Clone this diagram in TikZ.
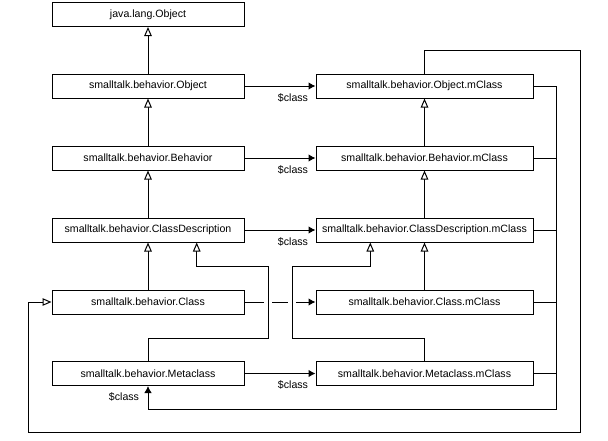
\documentclass[tikz,border=0pt]{standalone}
\usepackage{fontspec}
\setmainfont{Liberation Sans}
\usetikzlibrary{arrows.meta}
\tikzset{
  lbox/.style={draw, line width=1pt, rectangle, minimum width=192pt, minimum height=24pt, inner sep=0pt, font=\fontsize{10.6}{12}\selectfont},
  rbox/.style={lbox, minimum width=217pt},
  inh/.style={line width=1pt, -{Triangle[open, length=9pt, width=7.5pt, fill=white]}},
  cls/.style={line width=1pt, -{Latex[length=7pt, width=7.5pt]}},
  plain/.style={line width=1pt},
  lbl/.style={inner sep=0pt, font=\fontsize{10.6}{12}\selectfont},
}
\begin{document}
\begin{tikzpicture}[x=1pt, y=-1pt]
\useasboundingbox[fill=white] (0,0) rectangle (608,440);
% left column
\node[lbox] (java) at (148,14.5) {java.lang.Object};
\node[lbox] (obj)  at (148,86)   {smalltalk.behavior.Object};
\node[lbox] (beh)  at (148,158)  {smalltalk.behavior.Behavior};
\node[lbox] (cd)   at (148,230)  {smalltalk.behavior.ClassDescription};
\node[lbox] (cls)  at (148,302)  {smalltalk.behavior.Class};
\node[lbox] (meta) at (148,373.5){smalltalk.behavior.Metaclass};
% right column
\node[rbox] (objm)  at (424.5,86)   {smalltalk.behavior.Object.mClass};
\node[rbox] (behm)  at (424.5,158)  {smalltalk.behavior.Behavior.mClass};
\node[rbox] (cdm)   at (424.5,230)  {smalltalk.behavior.ClassDescription.mClass};
\node[rbox] (clsm)  at (424.5,302)  {smalltalk.behavior.Class.mClass};
\node[rbox] (metam) at (424.5,373.5){smalltalk.behavior.Metaclass.mClass};
% helper coordinates
\coordinate (m1) at (268.3,338);
\coordinate (m2) at (196.7,266);
\coordinate (n1) at (292.3,338);
\coordinate (n2) at (370.3,266);
\coordinate (r1) at (556,409.3);
\coordinate (o1) at (580,50.7);
\coordinate (o2) at (28.7,432.7);
% inheritance, left
\draw[inh] (obj.north) -- (java.south);
\draw[inh] (beh.north) -- (obj.south);
\draw[inh] (cd.north) -- (beh.south);
\draw[inh] (cls.north) -- (cd.south);
% inheritance, right
\draw[inh] (behm.north) -- (objm.south);
\draw[inh] (cdm.north) -- (behm.south);
\draw[inh] (clsm.north) -- (cdm.south);
% $class links
\draw[cls] (obj.east) -- (objm.west) node[lbl, at end, anchor=base east, xshift=-7pt, yshift=-15pt] {\$class};
\draw[cls] (beh.east) -- (behm.west) node[lbl, at end, anchor=base east, xshift=-7pt, yshift=-15pt] {\$class};
\draw[cls] (cd.east) -- (cdm.west) node[lbl, at end, anchor=base east, xshift=-7pt, yshift=-15pt] {\$class};
\draw[cls] (meta.east) -- (metam.west) node[lbl, at end, anchor=base east, xshift=-7pt, yshift=-15pt] {\$class};
\draw[cls] (cls.east) -- (clsm.west);
% gaps where the Class link crosses the bent connectors
\draw[white, line width=3pt] ([xshift=-4pt]m1 |- cls.east) -- ([xshift=4pt]m1 |- cls.east);
\draw[white, line width=3pt] ([xshift=-4pt]n1 |- cls.east) -- ([xshift=4pt]n1 |- cls.east);
% Metaclass -> ClassDescription, Metaclass.mClass -> ClassDescription.mClass
\draw[inh] (meta.north) |- (m1) |- (m2) -- (m2 |- cd.south);
\draw[inh] (metam.north) |- (n1) |- (n2) -- (n2 |- cdm.south);
% mClass tree -> Metaclass
\draw[cls] (objm.east) -| (r1) -| (meta.south) node[lbl, at end, anchor=base east, xshift=-8.5pt, yshift=-14.5pt] {\$class};
\draw[plain] (behm.east) -- (behm.east -| r1);
\draw[plain] (cdm.east) -- (cdm.east -| r1);
\draw[plain] (clsm.east) -- (clsm.east -| r1);
\draw[plain] (metam.east) -- (metam.east -| r1);
% Object.mClass -> Class
\draw[inh] (objm.north) |- (o1) |- (o2) |- (cls.west);
\end{tikzpicture}
\end{document}
